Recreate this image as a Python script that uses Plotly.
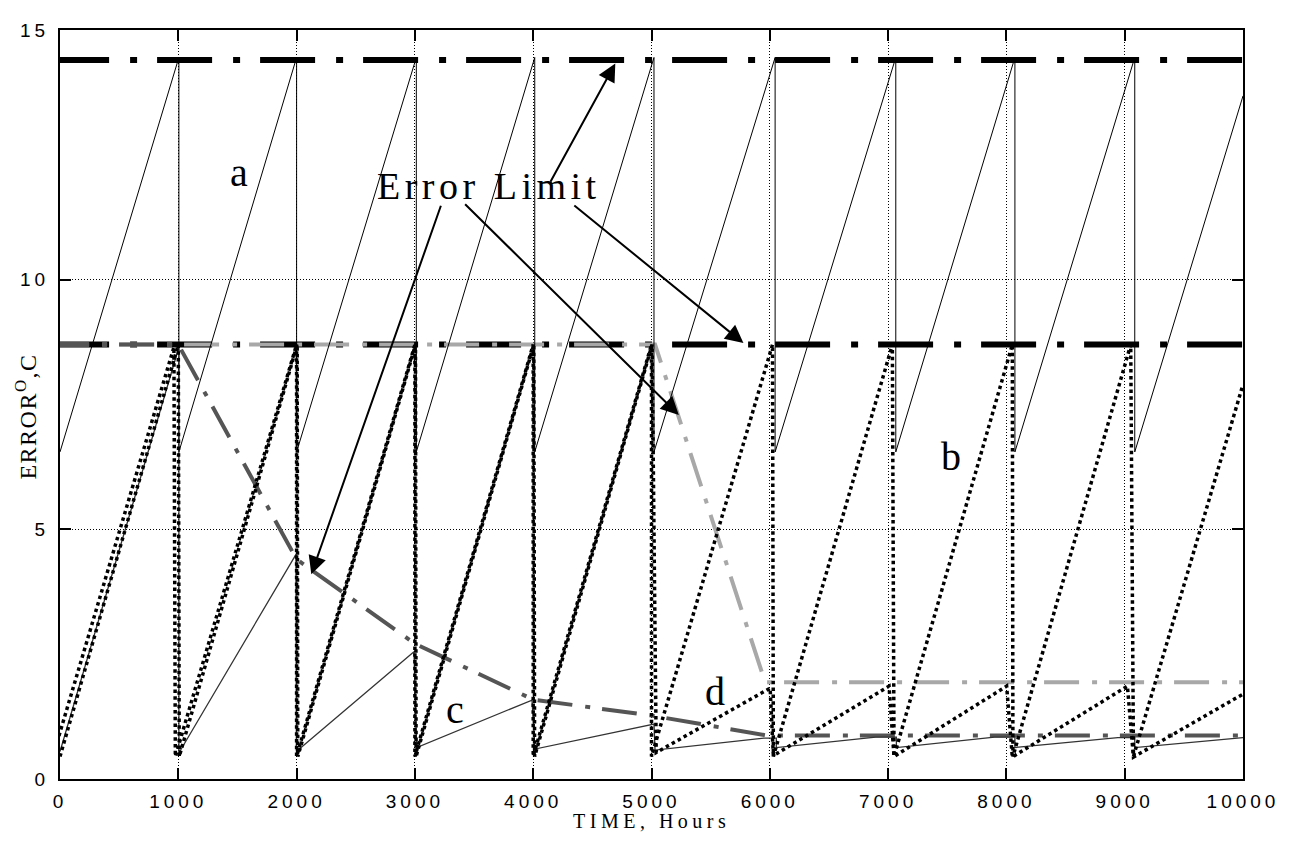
import plotly.graph_objects as go

# ---------------- data ----------------
# a : fixed-interval sawtooth (thin black solid)
a_x = [0, 1005, 1005, 2000, 2000, 3012, 3012, 4013, 4013, 5021, 5021, 6045, 6045,
       7065, 7065, 8072, 8072, 9085, 9085, 10000]
a_y = [6.55, 14.45, 6.55, 14.45, 6.55, 14.45, 6.55, 14.45, 6.55, 14.45, 6.55, 14.45,
       6.55, 14.45, 6.55, 14.45, 6.55, 14.45, 6.55, 13.68]

# c : solid dark-grey sawtooth with shrinking amplitude
c_x = [0, 1005, 1005, 1995, 1998, 2992, 3015, 3990, 4015, 5021, 5030, 5950, 6055, 6055,
       6895, 7070, 7070, 7900, 8072, 8072, 8942, 9085, 9085, 10000]
c_y = [0.55, 8.65, 0.52, 4.5, 0.55, 2.55, 0.63, 1.58, 0.6, 1.1, 0.58, 0.82, 0.82, 0.63,
       0.84, 0.84, 0.63, 0.84, 0.84, 0.63, 0.83, 0.83, 0.63, 0.83]

# b : steep dotted sawtooth
b_x = [-58, 963, 975, 2000, 2000, 3000, 3000, 4000, 4000, 5000, 5000, 6023, 6030,
       7036, 7050, 8050, 8055, 9051, 9074, 10000]
b_y = [0.47, 8.65, 0.45, 8.7, 0.45, 8.7, 0.45, 8.7, 0.45, 8.7, 0.45, 8.7, 0.45,
       8.7, 0.45, 8.7, 0.45, 8.7, 0.45, 7.9]

# d : dotted, steep until 5000 then shallow
d_x = [0, 1000, 1008, 2005, 2010, 3005, 3010, 4005, 4012, 5005, 5040, 6003, 6030,
       7008, 7050, 8002, 8050, 9023, 9074, 10000]
d_y = [0.45, 8.7, 0.45, 8.7, 0.45, 8.7, 0.45, 8.7, 0.45, 8.7, 0.53, 1.82, 0.47,
       1.86, 0.45, 1.86, 0.44, 1.86, 0.44, 1.70]

# error limits
lim_a_x = [-50, 10000]
lim_a_y = [14.4, 14.4]
lim_b_x = [-50, 10000]
lim_b_y = [8.7, 8.7]
lim_c_x = [-50, 1000, 2000, 3000, 4000, 5000, 5980, 10000]
lim_c_y = [8.7, 8.7, 4.4, 2.71, 1.59, 1.27, 0.87, 0.87]
lim_d_x = [-50, 5030, 5960, 10000]
lim_d_y = [8.7, 8.7, 1.94, 1.94]

x_ticks = [0, 1000, 2000, 3000, 4000, 5000, 6000, 7000, 8000, 9000, 10000]
x_tick_labels = ["0", "1000", "2000", "3000", "4000", "5000", "6000", "7000",
                 "8000", "9000", "10000"]
y_ticks = [0, 5, 10, 15]
y_tick_labels = ["0", "5", "10", "15"]

# labels: (text, x, y)
series_labels = [("a", 1511, 12.14), ("b", 7532, 6.45), ("c", 3336, 1.40), ("d", 5539, 1.75)]
limit_label = ("Error Limit", 3627, 11.87)
# arrows: (tail_x, tail_y, tip_x, tip_y)
arrows = [(4139, 11.93, 4694, 14.33),
          (3224, 11.51, 2124, 4.10),
          (3412, 11.54, 5231, 7.29),
          (4335, 11.51, 5777, 8.73)]

# ---------------- figure ----------------
fig = go.Figure()


def add(x, y, color, width, dash):
    fig.add_trace(go.Scatter(x=x, y=y, mode="lines",
                             line=dict(color=color, width=width, dash=dash, simplify=False),
                             showlegend=False, hoverinfo="skip"))


LIM_DASH = "55px,21px,7px,20px"
GREY_DASH = "35px,13px,5px,12px"
DOT = "3.5px,3.3px"

add(lim_a_x, lim_a_y, "black", 6, LIM_DASH)
add(lim_b_x, lim_b_y, "black", 6, LIM_DASH)
add(lim_d_x, lim_d_y, "#a8a8a8", 4, GREY_DASH)
add(lim_c_x, lim_c_y, "#555555", 4, GREY_DASH)
add(a_x, a_y, "black", 1, "solid")
add(c_x, c_y, "#333333", 1.3, "solid")
add(b_x, b_y, "black", 3.5, DOT)
add(d_x, d_y, "black", 3.5, DOT)

SERIF = "Liberation Serif, Times New Roman, serif"
SANS = "Liberation Sans, Arial, sans-serif"

for t, x, y in series_labels:
    fig.add_annotation(x=x, y=y, text=t, showarrow=False,
                       font=dict(family=SERIF, size=40, color="black"))

fig.add_annotation(x=limit_label[1], y=limit_label[2],
                   text="<span style='letter-spacing:4.5px'>%s</span>" % limit_label[0],
                   showarrow=False, font=dict(family=SERIF, size=38, color="black"))

for tx, ty, hx, hy in arrows:
    fig.add_annotation(x=hx, y=hy, ax=tx, ay=ty, xref="x", yref="y", axref="x", ayref="y",
                       text="", showarrow=True, arrowhead=2, arrowsize=1.8, arrowwidth=2,
                       arrowcolor="black", standoff=0, startstandoff=0)

fig.add_annotation(xref="paper", yref="paper", x=-0.029, y=0.4835,
                   text="<span style='letter-spacing:1.5px'>ERROR<sup>O</sup>,C</span>",
                   textangle=-90, showarrow=False,
                   xanchor="center", yanchor="middle",
                   font=dict(family=SERIF, size=24, color="black"))

fig.add_annotation(xref="paper", yref="paper", x=0.5, y=-0.0725,
                   text="<span style='letter-spacing:4.5px'>TIME, Hours</span>",
                   showarrow=False, xanchor="center", yanchor="bottom", borderpad=0,
                   font=dict(family=SERIF, size=20, color="black"))

axis_common = dict(ticks="inside", ticklen=11, tickwidth=2, tickcolor="black",
                   showline=True, linewidth=2, linecolor="black", mirror="ticks",
                   showgrid=True, gridcolor="black", gridwidth=1, griddash="1px,2px",
                   zeroline=False, tickfont=dict(family=SANS, size=19, color="black"))

fig.update_xaxes(range=[0, 10000], tickmode="array", tickvals=x_ticks,
                 ticktext=["<span style='letter-spacing:4px'>%s</span>" % s for s in x_tick_labels],
                 ticklabelstandoff=4, **axis_common)
fig.update_yaxes(range=[0, 15], tickmode="array", tickvals=y_ticks,
                 ticktext=["<span style='letter-spacing:4px'>%s</span>" % s for s in y_tick_labels],
                 ticklabelstandoff=5, **axis_common)

# the page adds an 8px body margin, so the figure is 16px smaller and margins shifted by 8px
fig.update_layout(width=1283, height=826, margin=dict(l=44, r=48, t=12, b=55),
                  plot_bgcolor="white", paper_bgcolor="white", showlegend=False)

fig.write_html("out.html")
